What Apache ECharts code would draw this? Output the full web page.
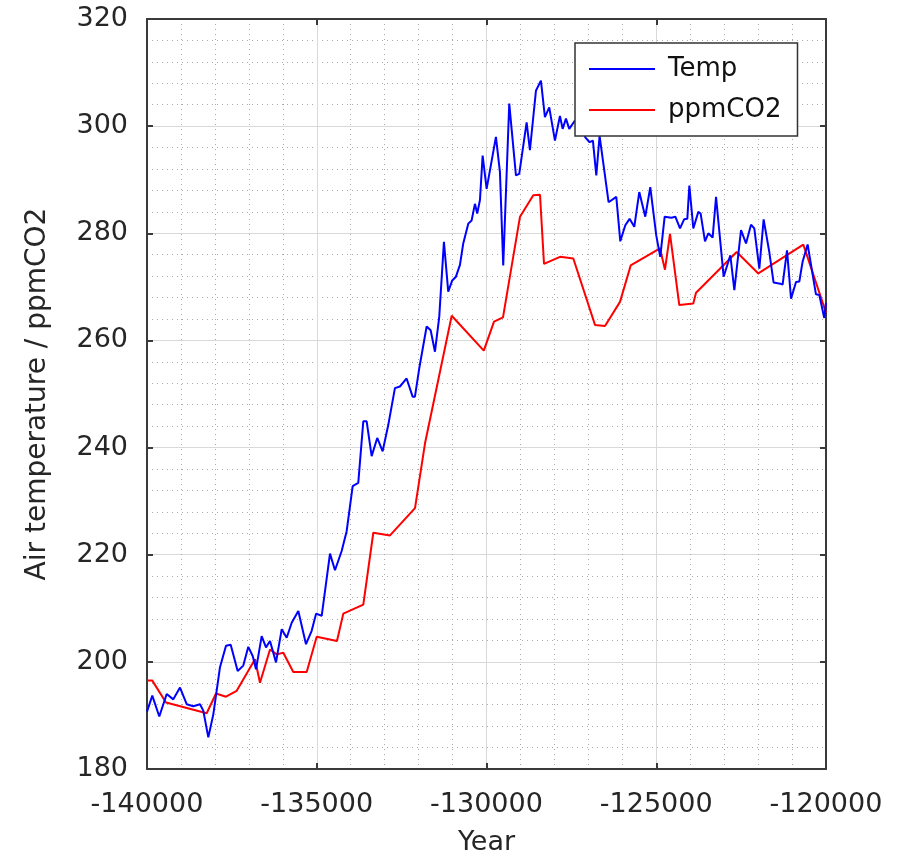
<!DOCTYPE html>
<html>
<head>
<meta charset="utf-8">
<title>Air temperature / ppmCO2</title>
<script src="https://cdn.jsdelivr.net/npm/echarts@6/dist/echarts.min.js"></script>
<style>
  html, body { margin: 0; padding: 0; background: #fff; }
  #chart { width: 904px; height: 861px; }
</style>
</head>
<body>
<div id="chart"></div>
<script>
// values
const tempYears = [
  -140000, -139844, -139638, -139420, -139225, -139028, -138831, -138636, -138439, -138342,
  -138194, -138047, -137850, -137673, -137535, -137329, -137164, -137016, -136887, -136789,
  -136622, -136495, -136377, -136200, -136032, -135885, -135738, -135543, -135317, -135150,
  -135020, -134854, -134610, -134463, -134266, -134119, -133942, -133777, -133629, -133530,
  -133383, -133218, -133059, -132894, -132697, -132550, -132353, -132176, -132108, -131981,
  -131940, -131763, -131645, -131518, -131392, -131254, -131127, -131009, -130900, -130782,
  -130685, -130537, -130438, -130341, -130273, -130193, -130114, -129996, -129722, -129604,
  -129507, -129330, -129133, -129036, -128818, -128721, -128544, -128397, -128279, -128152,
  -127984, -127837, -127757, -127660, -127563, -127400, -127200, -127090, -126963, -126866,
  -126766, -126669, -126404, -126177, -126059, -125912, -125785, -125647, -125500, -125323,
  -125176, -125000, -124882, -124752, -124556, -124438, -124300, -124180, -124085, -124025,
  -123908, -123761, -123694, -123564, -123466, -123339, -123239, -123015, -122818, -122700,
  -122503, -122356, -122209, -122112, -121964, -121837, -121670, -121543, -121346, -121278,
  -121148, -121030, -120883, -120786, -120689, -120541, -120296, -120198, -120051, -120000
];
const tempValues = [
  190.7, 193.7, 189.8, 194.0, 193.0, 195.2, 192.1, 191.7, 192.1, 190.9,
  185.9, 190.2, 199.0, 203.0, 203.2, 198.3, 199.3, 202.8, 201.1, 198.6,
  204.8, 202.7, 203.9, 199.9, 206.1, 204.5, 207.3, 209.5, 203.3, 205.8,
  209.0, 208.6, 220.2, 217.1, 220.7, 224.4, 232.8, 233.4, 244.9, 244.9,
  238.4, 241.8, 239.3, 244.2, 251.1, 251.4, 252.9, 249.5, 249.5, 254.8,
  254.5, 262.6, 261.9, 257.9, 264.4, 278.4, 269.1, 271.2, 271.9, 274.1,
  278.1, 281.8, 282.4, 285.5, 283.7, 286.2, 294.5, 288.3, 298.0, 291.4,
  274.0, 304.2, 290.8, 291.1, 300.7, 295.5, 306.6, 308.5, 301.7, 303.5,
  297.3, 301.9, 299.5, 301.4, 299.5, 301.0, 300.5, 297.9, 297.0, 297.3,
  290.8, 298.2, 285.8, 286.8, 278.5, 281.5, 282.7, 281.2, 287.7, 283.1,
  288.6, 279.6, 275.6, 283.1, 282.9, 283.1, 280.9, 282.6, 282.7, 288.9,
  280.9, 284.0, 283.7, 278.5, 280.0, 279.2, 286.8, 271.9, 275.9, 269.4,
  280.6, 278.1, 281.6, 280.9, 273.4, 282.6, 276.5, 270.8, 270.6, 270.4,
  276.8, 267.8, 270.9, 271.0, 274.7, 277.9, 268.6, 268.5, 264.2, 267.0
];

const co2Years = [
  -140000, -139844, -139440, -138242, -137968, -137673, -137358, -136819, -136672, -136377,
  -136180, -135985, -135691, -135296, -135002, -134404, -134218, -133629, -133334, -132842,
  -132106, -131811, -131025, -130080, -129779, -129514, -129013, -128622, -128424, -128306,
  -127835, -127443, -126804, -126510, -126068, -125753, -124890, -124743, -124595, -124321,
  -123909, -123829, -122631, -121994, -120669, -120000
];
const co2Values = [
  196.5, 196.5, 192.4, 190.4, 194.1, 193.5, 194.6, 200.5, 196.1, 202.3,
  201.4, 201.7, 198.1, 198.1, 204.7, 203.9, 209.0, 210.7, 224.1, 223.6,
  228.7, 240.8, 264.6, 258.1, 263.5, 264.3, 283.1, 287.1, 287.2, 274.3,
  275.6, 275.3, 262.9, 262.7, 267.2, 274.0, 277.2, 273.2, 279.9, 266.6,
  266.9, 268.9, 276.5, 272.5, 277.9, 265.2
];

const xMin = -140000, xMax = -120000, xStep = 5000;
const yMin = 180, yMax = 320, yStep = 20;

const font = 'DejaVu Sans';
const textColor = '#262626';
const boxColor = '#3a3a3a';

const pairs = (xs, ys) => xs.map((x, i) => [x, ys[i]]);

const chart = echarts.init(document.getElementById('chart'), null, { renderer: 'canvas' });

// shared look for the four sides of the box
const sideAxis = {
  axisLine: { show: true, onZero: false, lineStyle: { color: boxColor, width: 2 } },
  axisTick: { show: true, inside: true, length: 6, lineStyle: { color: boxColor, width: 2 } }
};

// dotted minor grid, every 1000 years / every 4 units
const minorGrid = { show: true, lineStyle: { color: '#aaaaaa', width: 1, type: [1, 4] } };

const option = {
  animation: false,
  backgroundColor: '#fff',
  grid: { left: 147, right: 78, top: 19, bottom: 89, containLabel: false },
  legend: {
    orient: 'vertical',
    left: 575,
    top: 43,
    padding: [13, 16, 13, 14],
    itemGap: 15,
    itemWidth: 66,
    itemHeight: 2,
    backgroundColor: '#fff',
    borderColor: '#333',
    borderWidth: 1.5,
    borderRadius: 0,
    data: [
      { name: 'Temp', icon: 'rect' },
      { name: 'ppmCO2', icon: 'rect' }
    ],
    textStyle: { fontFamily: font, fontSize: 26, color: '#111', padding: [0, 0, 0, 8] }
  },
  xAxis: [
    Object.assign({}, sideAxis, {
      type: 'value',
      min: xMin, max: xMax, interval: xStep,
      position: 'bottom',
      name: 'Year',
      nameLocation: 'middle',
      nameGap: 60,
      nameTextStyle: { fontFamily: font, fontSize: 27, color: textColor },
      axisLabel: {
        fontFamily: font, fontSize: 27, color: textColor, margin: 22,
        formatter: v => String(v)
      },
      splitLine: { show: true, lineStyle: { color: '#d9d9d9', width: 1 } },
      minorTick: { show: false, splitNumber: 5 },
      minorSplitLine: minorGrid
    }),
    Object.assign({}, sideAxis, {
      type: 'value',
      min: xMin, max: xMax, interval: xStep,
      position: 'top',
      axisLabel: { show: false },
      splitLine: { show: false }
    })
  ],
  yAxis: [
    Object.assign({}, sideAxis, {
      type: 'value',
      min: yMin, max: yMax, interval: yStep,
      position: 'left',
      name: 'Air temperature / ppmCO2',
      nameLocation: 'middle',
      nameGap: 95,
      nameTextStyle: { fontFamily: font, fontSize: 28, color: textColor },
      axisLabel: { fontFamily: font, fontSize: 27, color: textColor, margin: 19 },
      splitLine: { show: true, lineStyle: { color: '#d9d9d9', width: 1 } },
      minorTick: { show: false, splitNumber: 5 },
      minorSplitLine: minorGrid
    }),
    Object.assign({}, sideAxis, {
      type: 'value',
      min: yMin, max: yMax, interval: yStep,
      position: 'right',
      axisLabel: { show: false },
      splitLine: { show: false }
    })
  ],
  series: [
    {
      name: 'Temp',
      type: 'line',
      data: pairs(tempYears, tempValues),
      showSymbol: false,
      symbol: 'none',
      itemStyle: { color: '#0000ff' },
      lineStyle: { color: '#0000ff', width: 2 },
      z: 3
    },
    {
      name: 'ppmCO2',
      type: 'line',
      data: pairs(co2Years, co2Values),
      showSymbol: false,
      symbol: 'none',
      itemStyle: { color: '#ff0000' },
      lineStyle: { color: '#ff0000', width: 2 },
      z: 2
    }
  ]
};

chart.setOption(option);
</script>
</body>
</html>
